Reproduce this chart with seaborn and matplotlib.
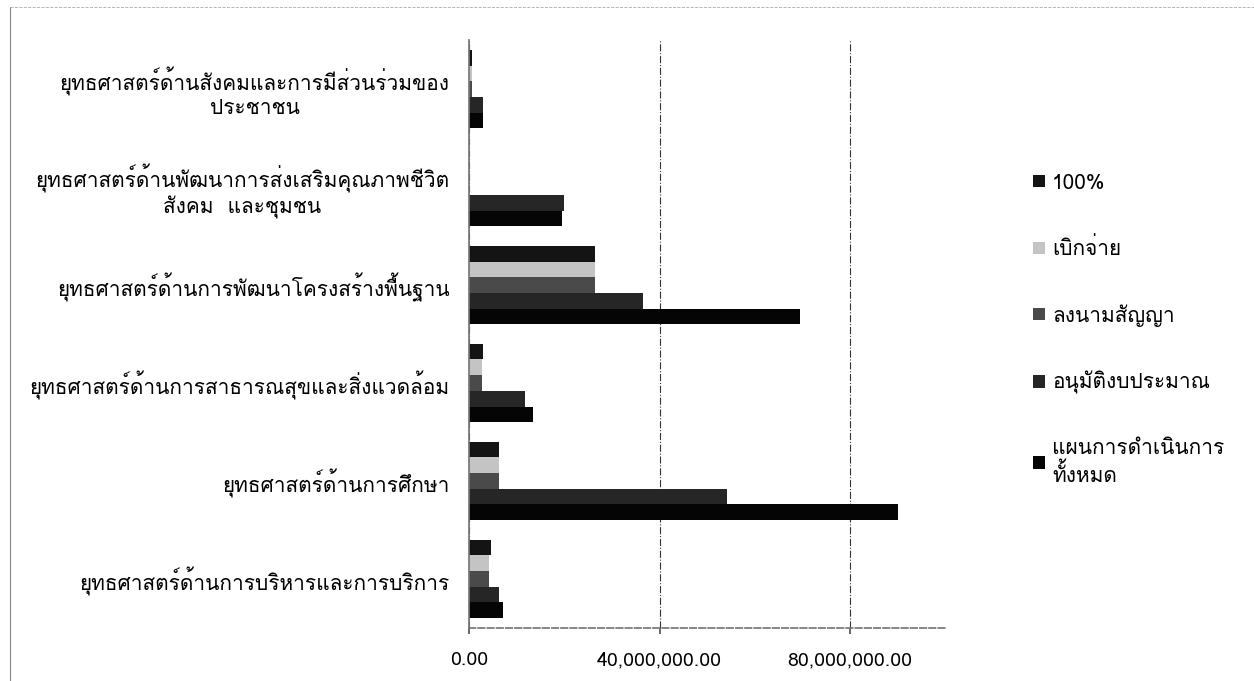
import matplotlib
matplotlib.use("Agg")
import matplotlib.pyplot as plt
import matplotlib.ticker as mticker
from matplotlib import font_manager
from matplotlib.ft2font import FT2Font
import pandas as pd
import seaborn as sns


# strategies, top to bottom as in the chart
strategies = [
    "ยุทธศาสตร์ด้านสังคมและการมีส่วนร่วมของ\nประชาชน",
    "ยุทธศาสตร์ด้านพัฒนาการส่งเสริมคุณภาพชีวิต\nสังคม  และชุมชน",
    "ยุทธศาสตร์ด้านการพัฒนาโครงสร้างพื้นฐาน",
    "ยุทธศาสตร์ด้านการสาธารณสุขและสิ่งแวดล้อม",
    "ยุทธศาสตร์ด้านการศึกษา",
    "ยุทธศาสตร์ด้านการบริหารและการบริการ",
]

series_names = ["100%", "เบิกจ่าย", "ลงนามสัญญา", "อนุมัติงบประมาณ",
                "แผนการดำเนินการ\nทั้งหมด"]

# values in baht
full_100 = [700000, 0, 26500000, 3000000, 6300000, 4600000]
disbursed = [700000, 0, 26500000, 2800000, 6300000, 4300000]
contract = [700000, 0, 26500000, 2800000, 6300000, 4300000]
approved = [2900000, 20000000, 36600000, 11800000, 54200000, 6300000]
plan_total = [2900000, 19600000, 69500000, 13400000, 90100000, 7100000]

bar_colors = ["#141414", "#c4c4c4", "#4a4a4a", "#262626", "#050505"]


# find an installed font that has Thai glyphs
thai_font = None
for f in font_manager.fontManager.ttflist:
    try:
        if 0x0E01 in FT2Font(f.fname).get_charmap():
            thai_font = f.name
            break
    except Exception:
        pass

sns.set_theme(style="white")
fams = ["DejaVu Sans"]
if thai_font:
    fams = [thai_font, "DejaVu Sans"]
plt.rcParams["font.family"] = fams
plt.rcParams["text.color"] = "black"
plt.rcParams["xtick.color"] = "black"
plt.rcParams["ytick.color"] = "black"

rows = []
for name, vals in zip(series_names, [full_100, disbursed, contract, approved, plan_total]):
    for s, v in zip(strategies, vals):
        rows.append({"strategy": s, "series": name, "value": v})
df = pd.DataFrame(rows)

fig = plt.figure(figsize=(12.54, 6.81), dpi=100)
ax = fig.add_axes([0.374, 0.078, 0.38, 0.863])

sns.barplot(data=df, y="strategy", x="value", hue="series", order=strategies,
            hue_order=series_names, palette=bar_colors, orient="h",
            width=0.8, linewidth=0, ax=ax)

ax.set_xlim(0, 100000000)
ax.set_xticks([0, 40000000, 80000000])
ax.xaxis.set_major_formatter(mticker.FuncFormatter(lambda v, p: "{:,.2f}".format(v)))
ax.grid(axis="x", color="#333333", linestyle="-.", linewidth=0.8)
ax.set_axisbelow(True)
ax.set_xlabel("")
ax.set_ylabel("")
for s in ["top", "right"]:
    ax.spines[s].set_visible(False)
ax.spines["left"].set_color("#777777")
ax.spines["bottom"].set_color("#777777")
ax.spines["bottom"].set_linestyle("--")
ax.tick_params(axis="y", length=0, pad=14, labelsize=15)
ax.tick_params(axis="x", length=4, labelsize=14, pad=13, bottom=True, color="#555555")
for lab in ax.get_yticklabels():
    lab.set_multialignment("center")

handles, labels = ax.get_legend_handles_labels()
ax.legend(handles, labels, loc="upper left", bbox_to_anchor=(1.145, 0.805),
          frameon=False, fontsize=15, labelspacing=2.15, handlelength=0.55,
          handleheight=0.55, handletextpad=0.35)

# scanned page border
fig.add_artist(plt.Line2D([0.008, 0.008], [0.0, 0.99], color="#888888", lw=0.8))
fig.add_artist(plt.Line2D([0.008, 1.0], [0.99, 0.99], color="#aaaaaa", lw=0.6, ls="--"))

fig.savefig("out.png", dpi=100)
